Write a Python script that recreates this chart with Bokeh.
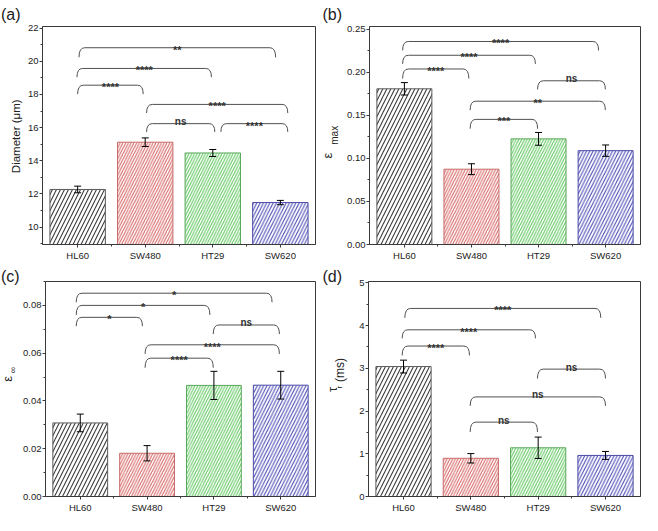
import numpy as np
from bokeh.plotting import figure
from bokeh.models import (ColumnDataSource, Whisker, TeeHead, FixedTicker,
                          Range1d, NumeralTickFormatter)
from bokeh.layouts import column, row
from bokeh.embed import file_html
from bokeh.resources import INLINE
from bokeh.core.properties import value

FONT = "Liberation Sans"

# ---------------- data ----------------
categories = ["HL60", "SW480", "HT29", "SW620"]
positions = [1, 2, 3, 4]

diameter = [12.27, 15.12, 14.47, 11.48]
diameter_err = [0.20, 0.26, 0.21, 0.13]

eps_max = [0.1807, 0.0874, 0.1226, 0.1089]
eps_max_err = [0.0072, 0.0063, 0.0074, 0.0066]

eps_inf = [0.0308, 0.0181, 0.0465, 0.0466]
eps_inf_err = [0.0037, 0.0032, 0.0059, 0.0058]

tau_r = [3.04, 0.894, 1.14, 0.961]
tau_r_err = [0.15, 0.11, 0.25, 0.093]

# significance brackets (left x, right x, bracket height, leg end, label)
a_sig_left = [1.02, 0.99, 1.00, 2.02, 2.02, 3.12]
a_sig_right = [3.93, 2.98, 1.97, 4.11, 3.03, 4.11]
a_sig_top = [20.82, 19.57, 18.56, 17.40, 16.24, 16.24]
a_sig_leg = [20.24, 19.04, 18.02, 16.88, 15.74, 15.74]
a_sig_text = ["**", "****", "****", "****", "ns", "****"]

b_sig_left = [0.974, 0.974, 0.974, 2.986, 1.98, 1.98]
b_sig_right = [3.895, 2.953, 1.961, 3.996, 3.996, 2.986]
b_sig_top = [0.2356, 0.2196, 0.2037, 0.1900, 0.1663, 0.1452]
b_sig_leg = [0.2252, 0.2096, 0.1926, 0.1800, 0.1560, 0.1344]
b_sig_text = ["****", "****", "****", "ns", "**", "***"]

c_sig_left = [0.94, 0.94, 0.94, 2.99, 1.97, 1.97]
c_sig_right = [3.87, 2.94, 1.93, 3.98, 3.98, 2.99]
c_sig_top = [0.0851, 0.0800, 0.0750, 0.0718, 0.0635, 0.0579]
c_sig_leg = [0.0813, 0.0760, 0.0713, 0.0680, 0.0597, 0.0539]
c_sig_text = ["*", "*", "*", "ns", "****", "****"]

d_sig_left = [1.02, 0.98, 0.98, 2.99, 1.99, 1.99]
d_sig_right = [3.93, 2.96, 1.98, 4.00, 4.00, 2.99]
d_sig_top = [4.40, 3.90, 3.52, 2.98, 2.33, 1.74]
d_sig_leg = [4.18, 3.70, 3.30, 2.76, 2.12, 1.51]
d_sig_text = ["****", "****", "****", "ns", "ns", "ns"]

# ---------------- styles ----------------
hatch_colors = ["#3c3c3c", "#d86868", "#62c862", "#5252b8"]
line_colors = ["#5a5a5a", "#c86a6a", "#5aa85a", "#4a4aa8"]
hatch_scales = [8, 5.5, 5.5, 6.5]
AX = "#3a3a3a"
TXT = "#222222"
CORNER_DX = 0.085


def make_panel(width, height, fl, fr, ft, fb, y_start, y_end, y_major, y_minor,
               y_format, vals, errs, sl, sr, st, sg, stext):
    p = figure(width=width, height=height, output_backend="svg", toolbar_location=None,
               title_location=None, frame_align=False,
               x_range=Range1d(0.48, 4.52), y_range=Range1d(y_start, y_end),
               min_border_left=fl, min_border_right=fr, min_border_top=ft,
               min_border_bottom=fb)
    p.xgrid.visible = False
    p.ygrid.visible = False
    p.outline_line_color = AX
    p.outline_line_width = 1

    src = ColumnDataSource(dict(
        x=positions, top=vals, upper=[v + e for v, e in zip(vals, errs)],
        lower=[v - e for v, e in zip(vals, errs)],
        hc=hatch_colors, lc=line_colors, hs=hatch_scales))
    p.vbar(x="x", top="top", bottom=0, width=0.82, source=src,
           fill_color="white", line_color="lc", line_width=1,
           hatch_pattern="/", hatch_color="hc", hatch_scale="hs", hatch_weight=1.1)
    w = Whisker(source=src, base="x", upper="upper", lower="lower",
                line_color="black", line_width=1,
                upper_head=TeeHead(size=7, line_color="black", line_width=1),
                lower_head=TeeHead(size=7, line_color="black", line_width=1))
    w.level = "overlay"
    p.add_layout(w)

    # significance brackets
    sl = np.array(sl); sr = np.array(sr); st = np.array(st); sg = np.array(sg)
    p.segment(x0=sl + CORNER_DX, y0=st, x1=sr - CORNER_DX, y1=st,
              line_color="#505050", line_width=1)
    p.quadratic(x0=sl, y0=sg, x1=sl + CORNER_DX, y1=st, cx=sl, cy=st,
                line_color="#505050", line_width=1)
    p.quadratic(x0=sr - CORNER_DX, y0=st, x1=sr, y1=sg, cx=sr, cy=st,
                line_color="#505050", line_width=1)
    offs = [-2 if t == "ns" else 2 for t in stext]
    sizes = ["10px" if t == "ns" else "11px" for t in stext]
    p.text(x=(sl + sr) / 2, y=st, text=stext, y_offset=offs, text_font_size=sizes,
           text_align="center", text_baseline="alphabetic",
           text_font=value(FONT), text_font_style="bold", text_color="#333333")

    # axes
    for ax in (p.xaxis[0], p.yaxis[0]):
        ax.axis_line_color = AX
        ax.major_tick_line_color = AX
        ax.minor_tick_line_color = AX
        ax.major_tick_in = 0
        ax.major_tick_out = 3
        ax.minor_tick_in = 0
        ax.minor_tick_out = 2
        ax.major_label_text_font = FONT
        ax.major_label_text_font_size = "9.5px"
        ax.major_label_text_color = TXT
        ax.axis_label = None
    p.xaxis.major_label_standoff = 2
    p.yaxis.major_label_standoff = 1
    p.xaxis.ticker = FixedTicker(ticks=positions, minor_ticks=[1.5, 2.5, 3.5])
    p.xaxis.major_label_overrides = {pos: c for pos, c in zip(positions, categories)}
    p.yaxis.ticker = FixedTicker(ticks=y_major, minor_ticks=y_minor)
    p.yaxis.formatter = NumeralTickFormatter(format=y_format)
    return p


def make_strip(width, height, items):
    """Narrow text-only figure to the left of a panel (panel letter + y label)."""
    s = figure(width=width, height=height, output_backend="svg", toolbar_location=None,
               title_location=None, frame_align=False,
               x_range=Range1d(0, width), y_range=Range1d(0, height),
               x_axis_type=None, y_axis_type=None, min_border=0,
               min_border_left=0, min_border_right=0, min_border_top=0,
               min_border_bottom=0)
    s.outline_line_color = None
    for cx, cy, text, size, angle, align, baseline in items:
        s.text(x=[cx], y=[height - cy], text=[text], angle=angle,
               text_align=align, text_baseline=baseline,
               text_font=value(FONT), text_font_size=size, text_color=TXT)
    return s


W1, W2 = 320, 322
H1, H2 = 263, 252
SA, SB, SC, SD = 24, 24, 20, 30
ROT = np.pi / 2

pa = make_panel(W1 - SA, H1, 41 - SA, 5, 26, 17, 8.95, 22.1,
                list(range(10, 23, 2)), list(range(9, 23, 2)), "0",
                diameter, diameter_err, a_sig_left, a_sig_right, a_sig_top, a_sig_leg, a_sig_text)
pb = make_panel(W2 - SB, H1, 48 - SB, 2, 26, 17, 0, 0.253,
                [0, 0.05, 0.10, 0.15, 0.20, 0.25], [0.025, 0.075, 0.125, 0.175, 0.225], "0.00",
                eps_max, eps_max_err, b_sig_left, b_sig_right, b_sig_top, b_sig_leg, b_sig_text)
pc = make_panel(W1 - SC, H2, 42 - SC, 5, 18, 16, 0, 0.09,
                [0, 0.02, 0.04, 0.06, 0.08], [0.01, 0.03, 0.05, 0.07, 0.09], "0.00",
                eps_inf, eps_inf_err, c_sig_left, c_sig_right, c_sig_top, c_sig_leg, c_sig_text)
pd = make_panel(W2 - SD, H2, 48 - SD, 2, 18, 16, 0, 5.03,
                [0, 1, 2, 3, 4, 5], [0.5, 1.5, 2.5, 3.5, 4.5], "0",
                tau_r, tau_r_err, d_sig_left, d_sig_right, d_sig_top, d_sig_leg, d_sig_text)

sa = make_strip(SA, H1, [
    (0.5, 13.5, "(a)", "16px", 0.0, "left", "alphabetic"),
    (15.6, 135.8, "Diameter (μm)", "11.5px", ROT, "center", "middle"),
])
sb = make_strip(SB, H1, [
    (2, 13.5, "(b)", "16px", 0.0, "left", "alphabetic"),
    (7.0, 155.2, "ε", "13px", ROT, "center", "middle"),
    (13.7, 134.8, "max", "10px", ROT, "center", "middle"),
])
sc = make_strip(SC, H2, [
    (0.5, 12.5, "(c)", "16px", 0.0, "left", "alphabetic"),
    (7.2, 115.3, "ε", "13px", ROT, "center", "middle"),
    (12.8, 106.6, "∞", "9px", ROT, "center", "middle"),
])
sd = make_strip(SD, H2, [
    (2, 12.5, "(d)", "16px", 0.0, "left", "alphabetic"),
    (12.2, 126.0, "τ", "13px", ROT, "center", "middle"),
    (18.9, 123.7, "r", "8px", ROT, "center", "middle"),
    (19.9, 106.4, "(ms)", "12px", ROT, "center", "middle"),
])

layout = column(row(sa, pa, sb, pb), row(sc, pc, sd, pd))
open("out.html", "w").write(file_html(layout, INLINE))
